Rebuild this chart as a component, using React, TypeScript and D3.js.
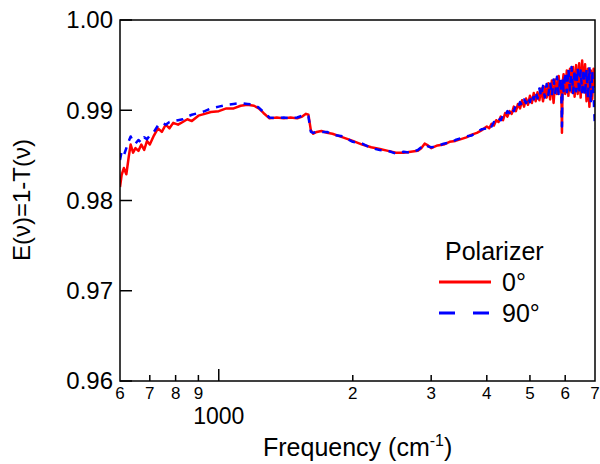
import React from "react";
import * as d3 from "d3";

// Frequency (cm^-1) sampling, low-noise region
const freqLow = [600,605,612,620,628,634,642,650,660,670,680,690,700,715,730,745,760,775,790,810,830,850,870,900,930,960,1000,1040,1080,1120,1160,1200,1230,1260,1300,1350,1400,1450,1500,1540,1570,1590,1610,1630,1660,1700,1750,1800,1900,2000,2100,2200,2300,2400,2500,2600,2700,2800,2850,2900,2950,3000,3100,3200,3300,3400,3500,3600,3700,3800,3900];
const red0Low = [0.9815,0.9828,0.9836,0.9829,0.9849,0.9862,0.9853,0.9858,0.9855,0.9862,0.9856,0.9866,0.9862,0.9872,0.9880,0.9876,0.9884,0.9880,0.9886,0.9884,0.9887,0.9890,0.9888,0.9894,0.9896,0.9898,0.9899,0.9902,0.9902,0.9905,0.9906,0.9905,0.9902,0.9897,0.9891,0.9892,0.9891,0.9892,0.9891,0.9893,0.9896,0.9895,0.9878,0.9874,0.9876,0.9877,0.9875,0.9874,0.9870,0.9866,0.9862,0.9859,0.9857,0.9855,0.9853,0.9853,0.9854,0.9855,0.9858,0.9863,0.9861,0.9858,0.9861,0.9862,0.9865,0.9866,0.9868,0.9870,0.9873,0.9875,0.9878];
const blue90Low = [0.9845,0.9854,0.9850,0.9858,0.9866,0.9871,0.9865,0.9863,0.9867,0.9864,0.9870,0.9868,0.9872,0.9876,0.9883,0.9886,0.9884,0.9887,0.9888,0.9889,0.9890,0.9893,0.9895,0.9897,0.9899,0.9902,0.9904,0.9906,0.9907,0.9908,0.9907,0.9906,0.9903,0.9898,0.9892,0.9891,0.9892,0.9891,0.9892,0.9894,0.9895,0.9893,0.9876,0.9875,0.9876,0.9876,0.9876,0.9873,0.9871,0.9865,0.9863,0.9858,0.9856,0.9855,0.9852,0.9854,0.9853,0.9856,0.9859,0.9862,0.9860,0.9859,0.9860,0.9863,0.9864,0.9867,0.9869,0.9871,0.9872,0.9876,0.9879];

// Noisy high-frequency region
const freqHigh = [4000,4050,4100,4150,4200,4250,4300,4350,4400,4450,4500,4550,4600,4650,4700,4750,4800,4850,4900,4950,5000,5050,5100,5150,5200,5250,5300,5350,5400,5450,5500,5550,5600,5650,5700,5750,5800,5850,5880,5900,5920,5950,6000,6050,6100,6150,6200,6250,6300,6350,6400,6450,6500,6550,6600,6650,6700,6750,6800,6850,6900,6950,7000];
const red0High = [0.9882,0.9880,0.9885,0.9883,0.9889,0.9887,0.9893,0.9889,0.9897,0.9893,0.9899,0.9896,0.9904,0.9899,0.9907,0.9902,0.9911,0.9904,0.9913,0.9906,0.9916,0.9908,0.9919,0.9910,0.9920,0.9911,0.9924,0.9910,0.9926,0.9914,0.9930,0.9912,0.9933,0.9908,0.9934,0.9918,0.9938,0.9920,0.9932,0.9875,0.9930,0.9940,0.9918,0.9944,0.9916,0.9946,0.9920,0.9948,0.9915,0.9950,0.9918,0.9952,0.9914,0.9955,0.9920,0.9951,0.9910,0.9946,0.9904,0.9944,0.9912,0.9946,0.9925];
const blue90High = [0.9880,0.9884,0.9882,0.9887,0.9886,0.9891,0.9889,0.9895,0.9893,0.9899,0.9897,0.9903,0.9899,0.9906,0.9903,0.9909,0.9905,0.9912,0.9908,0.9915,0.9909,0.9918,0.9912,0.9921,0.9913,0.9924,0.9915,0.9927,0.9914,0.9929,0.9917,0.9931,0.9916,0.9934,0.9919,0.9937,0.9918,0.9936,0.9922,0.9882,0.9935,0.9921,0.9942,0.9920,0.9946,0.9922,0.9948,0.9919,0.9945,0.9921,0.9947,0.9918,0.9944,0.9920,0.9946,0.9916,0.9945,0.9912,0.9948,0.9908,0.9944,0.9915,0.9880];

const yTicks = [0.96, 0.97, 0.98, 0.99, 1.0];
const xMinorTicks = [700, 800, 900, 2000, 3000, 4000, 5000, 6000];
const xMajorTicks = [1000];
const xSmallLabels: [number, string][] = [[600,"6"],[700,"7"],[800,"8"],[900,"9"],[2000,"2"],[3000,"3"],[4000,"4"],[5000,"5"],[6000,"6"],[7000,"7"]];
const seriesNames = ["0°", "90°"];

const W = 600, H = 464;
const L = 120, R = 595, T = 20, B = 381;
const FONT = "'Liberation Sans', Arial, Helvetica, sans-serif";

export default function App() {
  const x = d3.scaleLog().domain([600, 7000]).range([L, R]);
  const y = d3.scaleLinear().domain([0.96, 1.0]).range([B, T]);
  const line = d3.line<[number, number]>().x(d => x(d[0])).y(d => y(d[1]));

  const red: [number, number][] = [
    ...freqLow.map((f, i) => [f, red0Low[i]] as [number, number]),
    ...freqHigh.map((f, i) => [f, red0High[i]] as [number, number]),
  ];
  const blue: [number, number][] = [
    ...freqLow.map((f, i) => [f, blue90Low[i]] as [number, number]),
    ...freqHigh.map((f, i) => [f, blue90High[i]] as [number, number]),
  ];

  return (
    <svg width={W} height={H} style={{ position: "absolute", left: 0, top: 0, background: "#fff" }} fontFamily={FONT}>
      <rect x={0} y={0} width={W} height={H} fill="#fff" />
      <defs>
        <clipPath id="plotclip"><rect x={L} y={T} width={R - L} height={B - T} /></clipPath>
      </defs>
      <g clipPath="url(#plotclip)">
        <path d={line(red) || ""} fill="none" stroke="#ff0000" strokeWidth={2.5} strokeLinejoin="round" />
        <path d={line(blue) || ""} fill="none" stroke="#0000ff" strokeWidth={2.5} strokeDasharray="7,7" strokeLinejoin="round" />
      </g>
      <rect x={L} y={T} width={R - L} height={B - T} fill="none" stroke="#000" strokeWidth={1.5} />
      {yTicks.map(t => (
        <g key={"y" + t}>
          <line x1={L} x2={L + 12} y1={y(t)} y2={y(t)} stroke="#000" strokeWidth={1.5} />
          <text x={113} y={y(t)} dy="0.35em" textAnchor="end" fontSize={24}>{t.toFixed(2)}</text>
        </g>
      ))}
      {xMinorTicks.map(t => (
        <line key={"xm" + t} x1={x(t)} x2={x(t)} y1={B} y2={B - 6} stroke="#000" strokeWidth={1.5} />
      ))}
      {xMajorTicks.map(t => (
        <line key={"xM" + t} x1={x(t)} x2={x(t)} y1={B} y2={B - 12} stroke="#000" strokeWidth={1.5} />
      ))}
      {xSmallLabels.map(([v, s], i) => (
        <text key={"xl" + i} x={x(v)} y={399} textAnchor="middle" fontSize={17}>{s}</text>
      ))}
      {xMajorTicks.map(t => (
        <text key={"xL" + t} x={x(t)} y={424} textAnchor="middle" fontSize={23}>{String(t)}</text>
      ))}
      <text x={263} y={456} fontSize={25}>Frequency (cm<tspan dy={-10} fontSize={16}>-1</tspan><tspan dy={10}>)</tspan></text>
      <text transform="translate(30,200) rotate(-90)" textAnchor="middle" fontSize={24}>E(ν)=1-T(ν)</text>
      <text x={445} y={260} fontSize={25}>Polarizer</text>
      <line x1={439} x2={491} y1={282} y2={282} stroke="#ff0000" strokeWidth={3} />
      <text x={502} y={291} fontSize={25}>{seriesNames[0]}</text>
      <line x1={439} x2={491} y1={313} y2={313} stroke="#0000ff" strokeWidth={3} strokeDasharray="16,18" />
      <text x={502} y={322} fontSize={25}>{seriesNames[1]}</text>
    </svg>
  );
}
